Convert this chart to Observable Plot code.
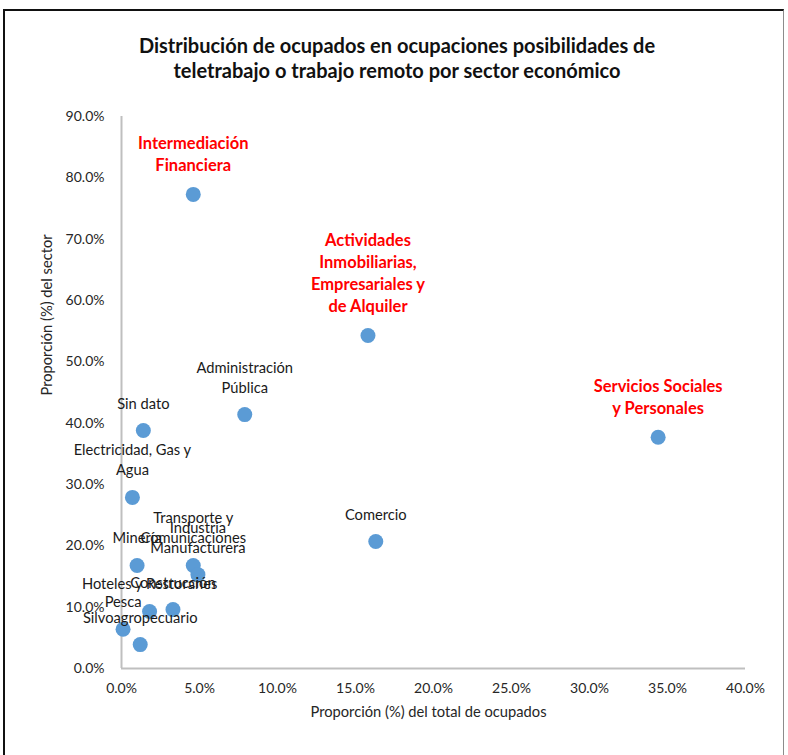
<!DOCTYPE html>
<html>
<head>
<meta charset="utf-8">
<script src="https://cdn.jsdelivr.net/npm/d3@7"></script>
<script src="https://cdn.jsdelivr.net/npm/@observablehq/plot@0.6"></script>
<style>
  html, body { margin: 0; padding: 0; background: #fff; }
  #wrap { position: relative; width: 788px; height: 755px; overflow: hidden; font-family: Lato, "Open Sans", sans-serif; }
  #frame { position: absolute; left: 3px; top: 9px; width: 781px; height: 760px; border-left: 2px solid #111; border-top: 2px solid #111; border-right: 1px solid #8c8c8c; box-sizing: border-box; pointer-events: none; }
  #title { position: absolute; left: 0; top: 33px; width: 794px; text-align: center; font-weight: bold; font-size: 20px; line-height: 25px; color: #111; }
  #chart { position: absolute; left: 0; top: 95px; }
</style>
</head>
<body>
<div id="wrap">
  <div id="title">Distribución de ocupados en ocupaciones posibilidades de<br>teletrabajo o trabajo remoto por sector económico</div>
  <div id="chart"></div>
  <div id="frame"></div>
</div>
<script>
// Sector labels (multi-line as in the reference)
const sectors = [
  "Intermediación\nFinanciera",
  "Actividades\nInmobiliarias,\nEmpresariales y\nde Alquiler",
  "Servicios Sociales\ny Personales",
  "Administración\nPública",
  "Sin dato",
  "Electricidad, Gas y\nAgua",
  "Comercio",
  "Minería",
  "Transporte y\nComunicaciones",
  "Industria\nManufacturera",
  "Hoteles y Restoranes",
  "Construcción",
  "Pesca",
  "Silvoagropecuario"
];
// Proporción (%) del total de ocupados
const shareOfEmployed = [4.6, 15.8, 34.4, 7.9, 1.4, 0.7, 16.3, 1.0, 4.6, 4.9, 1.8, 3.3, 0.1, 1.2];
// Proporción (%) del sector
const shareOfSector = [77.3, 54.3, 37.7, 41.4, 38.8, 27.9, 20.7, 16.8, 16.8, 15.3, 9.3, 9.6, 6.4, 3.9];
// Highlighted (red bold) sectors
const highlighted = [true, true, true, false, false, false, false, false, false, false, false, false, false, false];

const xTicks = [0, 5, 10, 15, 20, 25, 30, 35, 40];
const yTicks = [0, 10, 20, 30, 40, 50, 60, 70, 80, 90];
const xTitle = "Proporción (%) del total de ocupados";
const yTitle = "Proporción (%) del sector";

const data = sectors.map((s, i) => ({ sector: s, x: shareOfEmployed[i], y: shareOfSector[i], hi: highlighted[i] }));
const fmt = d => d.toFixed(1) + "%";

const chart = Plot.plot({
  width: 788,
  height: 660,
  marginTop: 21,
  marginBottom: 87,
  marginLeft: 121,
  marginRight: 43,
  style: { fontFamily: "Lato, 'Open Sans', sans-serif", fontSize: "14px", color: "#262626", background: "transparent" },
  x: { domain: [0, 40] },
  y: { domain: [0, 90] },
  marks: [
    Plot.ruleX([0], { stroke: "#bfbfbf", strokeWidth: 2 }),
    Plot.ruleY([0], { stroke: "#bfbfbf", strokeWidth: 2 }),
    Plot.axisX({ ticks: xTicks, tickFormat: fmt, tickSize: 0, tickPadding: 15, label: null, fontSize: 14 }),
    Plot.axisY({ ticks: yTicks, tickFormat: fmt, tickSize: 0, tickPadding: 17, label: null, fontSize: 14 }),
    Plot.text([xTitle], { text: d => d, frameAnchor: "bottom", dy: 48, dx: -5, fontSize: 14.7, fill: "#262626" }),
    Plot.text([yTitle], { text: d => d, frameAnchor: "left", rotate: -90, dx: -74, dy: 3, fontSize: 14.7, fill: "#262626" }),
    Plot.dot(data, { x: "x", y: "y", r: 7.5, fill: "#5b9bd5" }),
    Plot.text(data.filter(d => !d.hi), { x: "x", y: "y", text: "sector", lineAnchor: "bottom", lineHeight: 1.36, dy: -22, fontSize: 14.7, fill: "#1a1a1a" }),
    Plot.text(data.filter(d => d.hi), { x: "x", y: "y", text: "sector", lineAnchor: "bottom", lineHeight: 1.34, dy: -23, fontSize: 16.5, fontWeight: "bold", fill: "#ff0000" })
  ]
});
document.getElementById("chart").appendChild(chart);
</script>
</body>
</html>
